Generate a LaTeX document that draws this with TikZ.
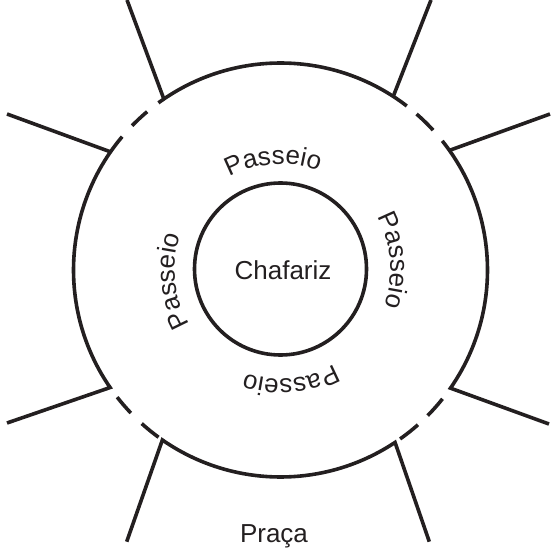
\documentclass[tikz,border=0pt]{standalone}
\usepackage{fontspec}
\setmainfont{Liberation Sans}
\usetikzlibrary{decorations.text}
\definecolor{ink}{HTML}{231F20}
\begin{document}
\begin{tikzpicture}[x=1pt,y=1pt,
  inkline/.style={draw=ink, line width=3.6pt},
  lbl/.style={text=ink, font=\fontsize{26}{31}\selectfont, inner sep=0pt},
  curvetext/.style={decorate, decoration={text along path, text align=center,
      text={|\fontsize{26}{31}\selectfont\color{ink}|Passeio}}}
  ]
\useasboundingbox (0,0) rectangle (557,555);
\coordinate (c) at (280.5,285);
% junctions on the outer circle
\coordinate (jTL) at ([shift={(124.3:207)}]c);
\coordinate (jTR) at ([shift={(57:207)}]c);
\coordinate (jL) at ([shift={(145.2:207)}]c);
\coordinate (jR) at ([shift={(35.3:207)}]c);
\coordinate (jBL) at ([shift={(214.6:207)}]c);
\coordinate (jBR) at ([shift={(-34.8:207)}]c);
\coordinate (jBLL) at ([shift={(235.2:207)}]c);
\coordinate (jBRL) at ([shift={(-56.4:207)}]c);
% street ends
\coordinate (eTL) at (127,555);
\coordinate (eTR) at (431,555);
\coordinate (eL) at (7,441);
\coordinate (eR) at (550,441);
\coordinate (eBL) at (7,132);
\coordinate (eBR) at (549,131);
\coordinate (eBLL) at (126.7,13.3);
\coordinate (eBRL) at (429.3,13.3);
% solid arcs and streets
\draw[inkline] ([shift={(52.4:207)}]c) arc[start angle=52.4, end angle=126.15, radius=207];
\draw[inkline] (jTL) -- (eTL);
\draw[inkline] (jTR) -- (eTR);
\draw[inkline] (eL) -- (jL);
\draw[inkline] (eR) -- (jR);
\draw[inkline] (eBL) -- (jBL) arc[start angle=214.6, end angle=139.9, radius=207];
\draw[inkline] (eBR) -- (jBR) arc[start angle=-34.8, end angle=38.6, radius=207];
\draw[inkline] (eBLL) -- (jBLL) arc[start angle=235.2, end angle=303.6, radius=207] -- (eBRL);
% dashes
\draw[inkline] ([shift={(130.1:207)}]c) arc[start angle=130.1, end angle=135.8, radius=207];
\draw[inkline] ([shift={(42.5:207)}]c) arc[start angle=42.5, end angle=48.9, radius=207];
\draw[inkline] ([shift={(217.9:207)}]c) arc[start angle=217.9, end angle=223.7, radius=207];
\draw[inkline] ([shift={(227.9:207)}]c) arc[start angle=227.9, end angle=233.9, radius=207];
\draw[inkline] ([shift={(-44.7:207)}]c) arc[start angle=-44.7, end angle=-38.5, radius=207];
\draw[inkline] ([shift={(-54.7:207)}]c) arc[start angle=-54.7, end angle=-48.4, radius=207];
% fountain
\node[draw=ink, line width=3.6pt, circle, minimum size=172pt, inner sep=0pt] (fount) at (280.5,286) {};
\node[lbl] (chaf) at (283,284.5) {Chafariz};
\node[lbl, anchor=base] (praca) at (274,13) {Praça};
% curved labels
\path[curvetext] ([shift={(133.9:106)}]c) arc[start angle=133.9, end angle=53.9, radius=106];
\path[curvetext] ([shift={(44.7:110)}]c) arc[start angle=44.7, end angle=-35.3, radius=110];
\path[curvetext] ([shift={(-44.6:109)}]c) arc[start angle=-44.6, end angle=-124.6, radius=109];
\path[curvetext] ([shift={(225.8:106)}]c) arc[start angle=225.8, end angle=145.8, radius=106];
\end{tikzpicture}
\end{document}
